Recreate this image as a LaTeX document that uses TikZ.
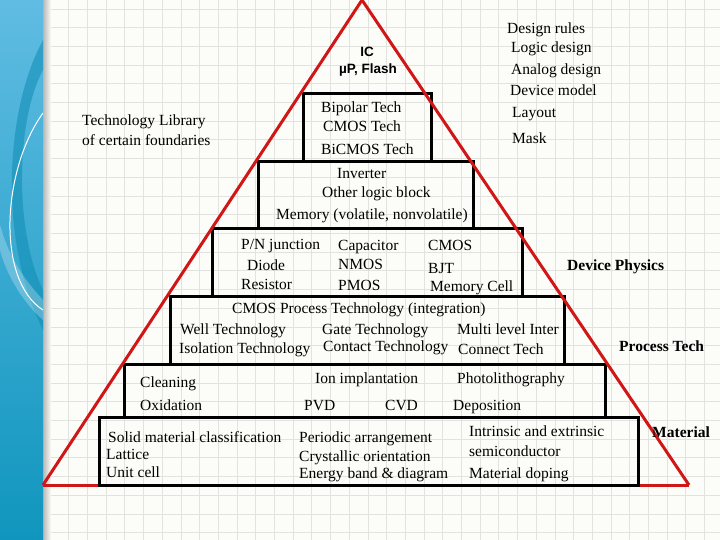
\documentclass[tikz,border=0pt]{standalone}
\usepackage{fontspec}
\setmainfont{Liberation Serif}
\newfontfamily\icfont{Liberation Sans}

\definecolor{pyrred}{RGB}{208,22,22}
\definecolor{paper}{RGB}{252,252,248}
\definecolor{gridgray}{RGB}{226,226,222}
\definecolor{stripTop}{RGB}{96,188,226}
\definecolor{stripBot}{RGB}{16,150,190}
\definecolor{stripDark}{RGB}{14,140,180}

\tikzset{
  layer/.style={draw=black, line width=3pt},
  side/.style={draw=pyrred, line width=3pt},
  txt/.style={anchor=base west, inner sep=0pt, font=\fontsize{15.5}{18}\selectfont},
  head/.style={anchor=base west, inner sep=0pt, font=\fontsize{15.5}{18}\selectfont\bfseries},
  top/.style={inner sep=0pt, font=\icfont\fontsize{13.5}{16}\selectfont\bfseries},
}

\begin{document}
\begin{tikzpicture}[x=1pt,y=-1pt]
  \fill[paper] (0,0) rectangle (720,540);
  \useasboundingbox (0,0) rectangle (720,540);

  % grid paper
  \foreach \gx in {0,...,36}
    \draw[gridgray, line width=0.8pt] ({50+18.7*\gx},0) -- ({50+18.7*\gx},540);
  \foreach \gy in {0,...,28}
    \draw[gridgray, line width=0.8pt] (43,{9+18.7*\gy}) -- (720,{9+18.7*\gy});

  % blue strip on the left
  \shade[left color=black!28, right color=paper] (43,0) rectangle (51,540);
  \shade[top color=stripTop, bottom color=stripBot] (0,0) rectangle (43,540);
  \begin{scope}
    \clip (0,0) rectangle (43,540);
    \fill[stripDark, opacity=.55] (43,40) .. controls (5,110) and (-2,240) .. (43,330)
      -- (43,290) .. controls (14,230) and (16,120) .. (43,70) -- cycle;
    \fill[white, opacity=.25] (0,225) .. controls (10,260) and (25,280) .. (43,300)
      -- (43,320) .. controls (20,300) and (5,270) .. (0,250) -- cycle;
    \draw[white, line width=1pt] (43,113) .. controls (2,170) and (-4,280) .. (43,310);
  \end{scope}

  % the pyramid
  \coordinate (apex) at (362,0);
  \coordinate (bl) at (43,485);
  \coordinate (br) at (689,485);
  \draw[side] (bl) -- (br);
  \foreach \l/\t/\r/\b in {303/94/431/162, 258/162/473/229, 212/229/522/296,
                           170/296/564/364, 124/364/605/417, 99/417/638/485}
    \draw[layer] (\l,\t) rectangle (\r,\b);
  \draw[side] (bl) -- (apex) -- (br);

  % top
  \node[top] (ic) at (367,52) {IC};
  \node[top] (up) at (368,70) {µP, Flash};

  % left and right notes
  \node[txt] (lib) at (82,126) {Technology Library};
  \node[txt] (fdry) at (82,146) {of certain foundaries};
  \node[txt] (drule) at (507,34) {Design rules};
  \node[txt] (logic) at (511,53) {Logic design};
  \node[txt] (analog) at (511,75) {Analog design};
  \node[txt] (model) at (510,96) {Device model};
  \node[txt] (layout) at (512,118) {Layout};
  \node[txt] (mask) at (512,144) {Mask};

  % box 1
  \node[txt] (bip) at (321,113) {Bipolar Tech};
  \node[txt] (cmost) at (323,132) {CMOS Tech};
  \node[txt] (bicmos) at (321,155) {BiCMOS Tech};

  % box 2
  \node[txt] (inv) at (337,179) {Inverter};
  \node[txt] (olb) at (322,198) {Other logic block};
  \node[txt] (mem) at (276,219) {Memory (volatile, nonvolatile)};

  % box 3
  \node[txt] (pn) at (241,249) {P/N junction};
  \node[txt] (diode) at (247,270) {Diode};
  \node[txt] (res) at (241,289) {Resistor};
  \node[txt] (cap) at (338,250) {Capacitor};
  \node[txt] (nmos) at (338,269) {NMOS};
  \node[txt] (pmos) at (338,290) {PMOS};
  \node[txt] (cmos) at (428,250) {CMOS};
  \node[txt] (bjt) at (428,273) {BJT};
  \node[txt] (mcell) at (430,291) {Memory Cell};
  \node[head] (devphys) at (567,270) {Device Physics};

  % box 4
  \node[txt] (cpt) at (232,313) {CMOS Process Technology (integration)};
  \node[txt] (well) at (180,334) {Well Technology};
  \node[txt] (iso) at (179,353) {Isolation Technology};
  \node[txt] (gate) at (322,334) {Gate Technology};
  \node[txt] (cont) at (323,351) {Contact Technology};
  \node[txt] (multi) at (457,334) {Multi level Inter};
  \node[txt] (conn) at (458,354) {Connect Tech};
  \node[head] (proc) at (619,351) {Process Tech};

  % box 5
  \node[txt] (clean) at (140,387) {Cleaning};
  \node[txt] (oxi) at (140,410) {Oxidation};
  \node[txt] (ion) at (315,383) {Ion implantation};
  \node[txt] (pvd) at (304,410) {PVD};
  \node[txt] (cvd) at (385,410) {CVD};
  \node[txt] (photo) at (457,383) {Photolithography};
  \node[txt] (depo) at (453,410) {Deposition};

  % box 6
  \node[txt] (solid) at (108,442) {Solid material classification};
  \node[txt] (latt) at (106,459) {Lattice};
  \node[txt] (unit) at (106,477) {Unit cell};
  \node[txt] (peri) at (299,442) {Periodic arrangement};
  \node[txt] (cryst) at (299,461) {Crystallic orientation};
  \node[txt] (band) at (299,478) {Energy band \& diagram};
  \node[txt] (intr) at (469,436) {Intrinsic and extrinsic};
  \node[txt] (semi) at (469,456) {semiconductor};
  \node[txt] (dop) at (469,478) {Material doping};
  \node[head] (mat) at (652,437) {Material};
\end{tikzpicture}
\end{document}
